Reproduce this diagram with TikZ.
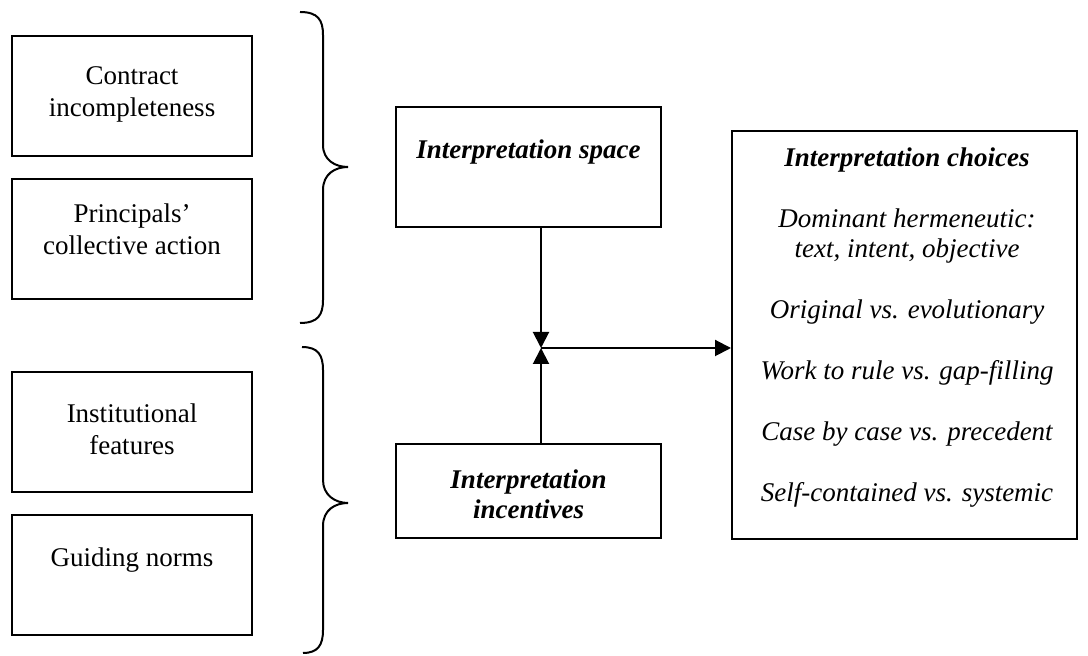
\documentclass[tikz,border=0pt]{standalone}
\usepackage{fontspec}
\setmainfont{Liberation Serif}
\usetikzlibrary{arrows.meta}

\begin{document}
\begin{tikzpicture}[x=0.5pt,y=-0.5pt,line width=1pt,>={Triangle[length=8pt,width=8pt]}]
    \tikzstyle{box}=[draw,line width=1pt,inner sep=0pt]
    \tikzstyle{lbox}=[box,minimum width=120pt,minimum height=60pt]
    \tikzstyle{mbox}=[box,minimum width=132.5pt]
    \tikzstyle{txt}=[align=center,font=\fontsize{13.5}{16}\selectfont]
    \tikzstyle{bitxt}=[txt,font=\fontsize{13.5}{15.25}\selectfont\bfseries\itshape]

    \useasboundingbox (0,0) rectangle (1088,656);

    % left column
    \node[lbox] (ci) at (132,96) {};
    \node[txt] (ciT) at (132,94) {Contract\\incompleteness};
    \node[lbox] (pc) at (132,239.5) {};
    \node[txt] (pcT) at (132,229) {Principals'\\collective action};
    \node[lbox] (inf) at (132,432) {};
    \node[txt] (infT) at (132,429) {Institutional\\features};
    \node[lbox] (gn) at (132,575.5) {};
    \node[txt] (gnT) at (132,560) {Guiding norms};

    % braces
    \draw (300,12) .. controls (318,12) and (323,20) .. (323,35) -- (323,145)
        .. controls (323,160) and (335,167) .. (348,167)
        .. controls (335,167) and (323,174) .. (323,190) -- (323,300)
        .. controls (323,315) and (318,323) .. (300,323);
    \draw (302,347) .. controls (318,347) and (323,355) .. (323,370) -- (323,480)
        .. controls (323,495) and (335,503) .. (348,503)
        .. controls (335,503) and (323,510) .. (323,526) -- (323,630)
        .. controls (323,645) and (318,653) .. (303,653);

    % middle column
    \node[mbox,minimum height=60pt] (is) at (528.5,167) {};
    \node[bitxt] (isT) at (528.5,152) {Interpretation space};
    \node[mbox,minimum height=47pt] (ii) at (528.5,491) {};
    \node[bitxt,font=\fontsize{13.5}{15}\selectfont\bfseries\itshape] (iiT) at (528.5,494) {Interpretation\\incentives};

    % right column
    \node[box,minimum width=172.5pt,minimum height=204pt] (ic) at (904.5,335) {};
    \node[txt,font=\fontsize{13.5}{15.25}\selectfont\itshape] (icT) at (907,327.5) {%
        \textbf{Interpretation choices}\\[15.25pt]
        Dominant hermeneutic:\\text, intent, objective\\[15.25pt]
        Original vs. evolutionary\\[15.25pt]
        Work to rule vs. gap-filling\\[15.25pt]
        Case by case vs. precedent\\[15.25pt]
        Self-contained vs. systemic};

    \coordinate (j) at (541,348);
    \draw[->] (is.south -| j) -- (j);
    \draw[->] (ii.north -| j) -- (j);
    \draw[->] (j) -- (ic.west |- j);

  \end{tikzpicture}
\end{document}
